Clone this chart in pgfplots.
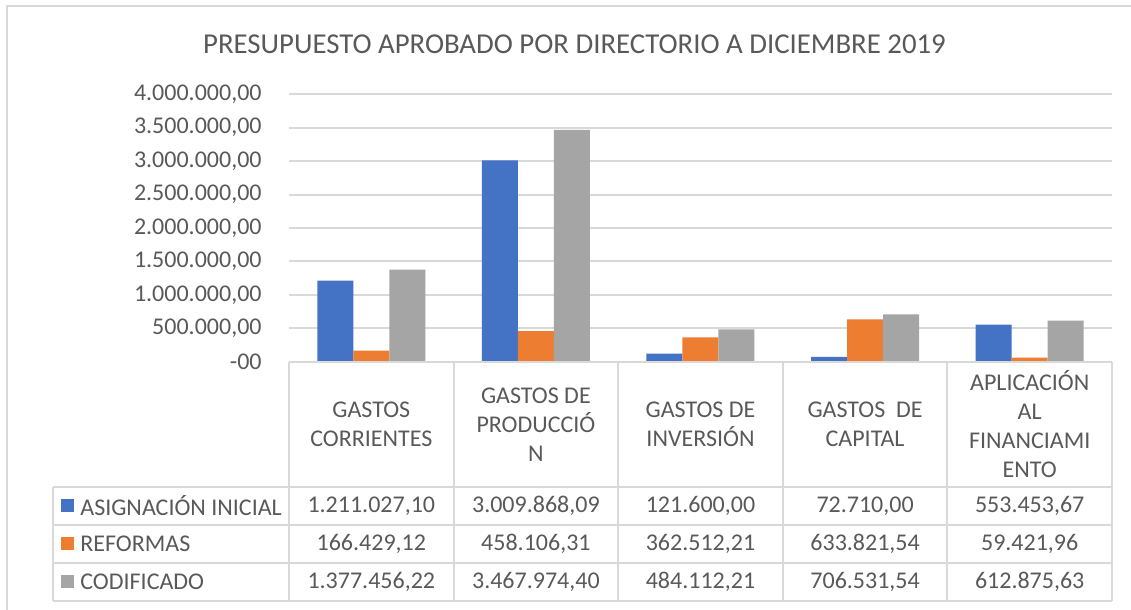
\documentclass[border=0pt]{standalone}
\usepackage{pgfplots}
\pgfplotsset{compat=1.18}
\usepackage{fontspec}
\setmainfont{Carlito}
\definecolor{xblue}{HTML}{4472C4}
\definecolor{xorange}{HTML}{ED7D31}
\definecolor{xgray}{HTML}{A5A5A5}
\definecolor{txt}{HTML}{595959}
\definecolor{rule}{HTML}{D9D9D9}
\begin{document}
\begin{tikzpicture}
% image pixels, origin at the axis' lower left corner
\begin{scope}[x=0.5pt,y=-0.5pt,shift={(-289,-361.7)}]
  \useasboundingbox (0,0) rectangle (1131,610);
  \draw[rule,line width=1pt] (7.5,610) -- (7.5,6) -- (1131,6);
  \node[txt,font=\fontsize{14.4}{17}\selectfont] at (574.5,44) {PRESUPUESTO APROBADO POR DIRECTORIO A DICIEMBRE 2019};
\end{scope}
\begin{axis}[
    at={(0,0)}, anchor=south west,
    scale only axis,
    width=411.5pt, height=133.7pt,
    ybar=0pt, bar width=18pt,
    xmin=-0.5, xmax=4.5,
    ymin=0, ymax=4000000,
    xtick=\empty,
    scaled y ticks=false,
    ytick={0,500000,1000000,1500000,2000000,2500000,3000000,3500000,4000000},
    yticklabels={{-00},{500.000,00},{1.000.000,00},{1.500.000,00},{2.000.000,00},{2.500.000,00},{3.000.000,00},{3.500.000,00},{4.000.000,00}},
    yticklabel style={font=\fontsize{12}{14}\selectfont, text=txt, anchor=east, inner sep=0pt, xshift=-13.5pt},
    major tick length=0pt,
    axis line style={draw=none},
    ymajorgrids, grid style={rule, line width=1pt},
  ]
  \addplot[fill=xblue, draw=none] coordinates {(0,1211027.10) (1,3009868.09) (2,121600.00) (3,72710.00) (4,553453.67)};
  \addplot[fill=xorange, draw=none] coordinates {(0,166429.12) (1,458106.31) (2,362512.21) (3,633821.54) (4,59421.96)};
  \addplot[fill=xgray, draw=none] coordinates {(0,1377456.22) (1,3467974.40) (2,484112.21) (3,706531.54) (4,612875.63)};
\end{axis}
% data table below the plot
\begin{scope}[x=0.5pt,y=-0.5pt,shift={(-289,-361.7)},
    every node/.style={txt,font=\fontsize{12}{14.5}\selectfont,inner sep=0pt}]
  \draw[rule,line width=1pt] (289,361.7) -- (1112,361.7);
  \foreach \yy in {487,525,563,601.5} \draw[rule,line width=1pt] (53.5,\yy) -- (1112,\yy);
  \draw[rule,line width=1pt] (53.5,487) -- (53.5,601.5);
  \foreach \xx in {289,453.6,618.2,782.8,947.4,1112} \draw[rule,line width=1pt] (\xx,361.7) -- (\xx,601.5);
  % category headers
  \node[align=center] at (371.3,424.5) {GASTOS\\CORRIENTES};
  \node[align=center] at (535.9,424.5) {GASTOS DE\\PRODUCCIÓ\\N};
  \node[align=center] at (700.5,424.5) {GASTOS DE\\INVERSIÓN};
  \node[align=center] at (865.1,424.5) {GASTOS~~DE\\CAPITAL};
  \node[align=center] at (1029.7,424.5) {APLICACIÓN\\AL\\FINANCIAMI\\ENTO};
  % legend keys
  \fill[xblue] (61,499.5) rectangle (74,512.5);
  \fill[xorange] (61,537.5) rectangle (74,550.5);
  \fill[xgray] (61,575.5) rectangle (74,588.5);
  \node[anchor=west] at (80,506) {ASIGNACIÓN INICIAL};
  \node[anchor=west] at (80,544) {REFORMAS};
  \node[anchor=west] at (80,582) {CODIFICADO};
  % values
  \node at (371.3,506) {1.211.027,10};
  \node at (535.9,506) {3.009.868,09};
  \node at (700.5,506) {121.600,00};
  \node at (865.1,506) {72.710,00};
  \node at (1029.7,506) {553.453,67};
  \node at (371.3,544) {166.429,12};
  \node at (535.9,544) {458.106,31};
  \node at (700.5,544) {362.512,21};
  \node at (865.1,544) {633.821,54};
  \node at (1029.7,544) {59.421,96};
  \node at (371.3,582) {1.377.456,22};
  \node at (535.9,582) {3.467.974,40};
  \node at (700.5,582) {484.112,21};
  \node at (865.1,582) {706.531,54};
  \node at (1029.7,582) {612.875,63};
\end{scope}
\end{tikzpicture}
\end{document}
